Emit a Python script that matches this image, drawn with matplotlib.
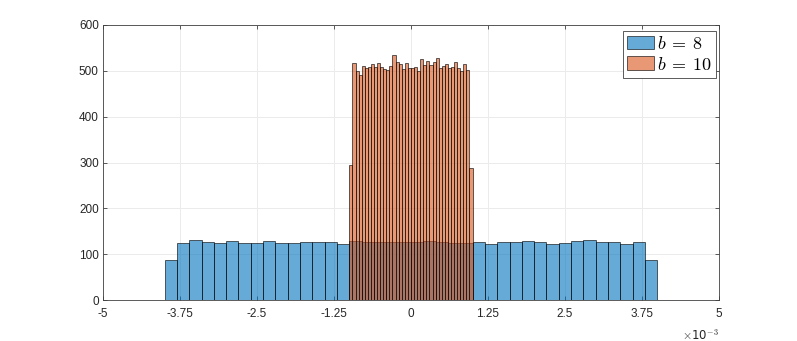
import numpy as np
import matplotlib
matplotlib.use('Agg')
import matplotlib.pyplot as plt

# Histograma del error de cuantificacion (unidades de 1e-3)
bordes_b8 = np.linspace(-4.0, 4.0, 41)
cuentas_b8 = [87, 124, 132, 127, 124, 128, 124, 124, 128, 125,
              124, 126, 126, 126, 122,
              129, 127, 127, 127, 127, 127, 129, 127, 124, 125,
              127, 122, 126, 126, 129, 126, 122, 124, 128, 132,
              126, 127, 122, 127, 87]

bordes_b10 = np.linspace(-1.0, 1.0, 41)
cuentas_b10 = [294, 516, 500, 491, 511, 507, 509, 514, 509, 516,
               508, 505, 502, 511, 535, 520, 514, 505, 516, 507,
               507, 509, 499, 526, 513, 521, 513, 520, 527, 507,
               511, 514, 506, 509, 520, 506, 500, 514, 502, 288]

xticks = [-5, -3.75, -2.5, -1.25, 0, 1.25, 2.5, 3.75, 5]
xtick_labels = ['-5', '-3.75', '-2.5', '-1.25', '0', '1.25', '2.5', '3.75', '5']
yticks = [0, 100, 200, 300, 400, 500, 600]

plt.rcParams['font.family'] = ['Liberation Sans', 'DejaVu Sans']
plt.rcParams['mathtext.fontset'] = 'cm'
plt.rcParams['axes.unicode_minus'] = False

azul = (0.0, 0.447, 0.741, 0.6)
naranja = (0.85, 0.325, 0.098, 0.6)

fig = plt.figure(figsize=(7.97, 3.41), dpi=100)
ax = fig.add_axes([0.1292, 0.1202, 0.7729, 0.8065])

ax.bar(bordes_b8[:-1], cuentas_b8, width=np.diff(bordes_b8), align='edge',
       color=azul, edgecolor=(0, 0, 0, 0.7), linewidth=0.6,
       label=r'$b\:=\:8$', zorder=2)
ax.bar(bordes_b10[:-1], cuentas_b10, width=np.diff(bordes_b10), align='edge',
       color=naranja, edgecolor=(0, 0, 0, 0.7), linewidth=0.6,
       label=r'$b\:=\:10$', zorder=3)

ax.set_xlim(-5, 5)
ax.set_ylim(0, 600)
ax.set_xticks(xticks)
ax.set_xticklabels(xtick_labels)
ax.set_yticks(yticks)

ax.grid(True, color='#ebebeb', linewidth=0.7, zorder=0)
ax.set_axisbelow(True)
for s in ax.spines.values():
    s.set_color('#404040')
    s.set_linewidth(0.6)
ax.tick_params(direction='in', length=3, width=0.6, color='#404040',
               labelsize=8.5, labelcolor='#262626', top=True, right=True)
ax.tick_params(axis='x', pad=6)
ax.tick_params(axis='y', pad=3)

ax.text(1.0, -0.1, r'$\times$10$^{-3}$', transform=ax.transAxes, ha='right', va='top',
        fontsize=8.5, color='#262626', family='DejaVu Sans')

leg = ax.legend(loc='upper right', bbox_to_anchor=(0.995, 0.978),
                fontsize=13, fancybox=False, framealpha=1,
                edgecolor='#404040', handlelength=1.5, handleheight=0.8,
                handletextpad=0.15, borderpad=0.25, labelspacing=0.2,
                borderaxespad=0)
leg.get_frame().set_linewidth(0.6)

fig.savefig('out.png', dpi=100)
